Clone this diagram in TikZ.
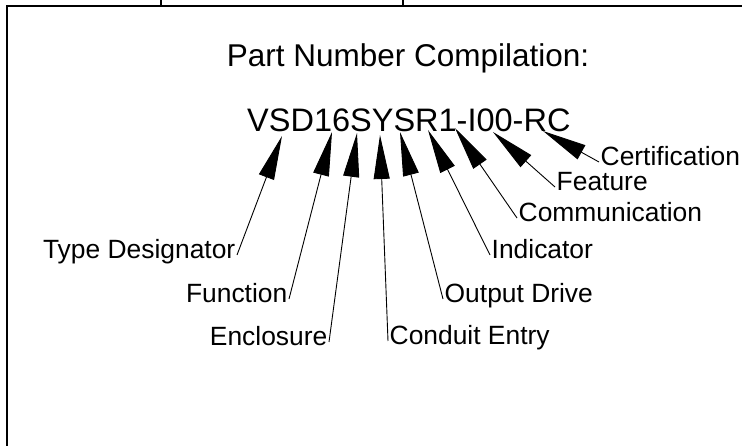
\documentclass[tikz,border=0pt]{standalone}
\usepackage{fontspec}
\setmainfont{Liberation Sans}
\usetikzlibrary{arrows.meta}

\tikzset{
  frameline/.style={line width=1.6pt},
  pnarrow/.style={line width=0.9pt,-{Triangle[length=44pt,width=16pt]}},
  lbl/.style={inner sep=1.5pt,font=\fontsize{26.4}{30}\selectfont,text height=0.716em,text depth=0pt}
}

\begin{document}
\begin{tikzpicture}[x=1pt,y=-1pt]
\useasboundingbox (0,0) rectangle (742,446);
% frame
\draw[frameline] (7,446) -- (7,6) -- (742,6);
\draw[frameline] (160.7,0) -- (160.7,6);
\draw[frameline] (403,0) -- (403,6);

% title and part number
\node[anchor=base,inner sep=0pt,font=\fontsize{31.5}{36}\selectfont] (title) at (408,67) {Part Number Compilation:};
\node[anchor=base west,inner sep=0pt,font=\fontsize{32.5}{38}\selectfont] (pn) at (247,132) {VSD16SYSR1-I00-RC};

% arrow tips on the part number
\coordinate (tipType) at (282,136);
\coordinate (tipFunc) at (332,132);
\coordinate (tipEncl) at (357,133);
\coordinate (tipCond) at (380,135);
\coordinate (tipOut) at (400,132);
\coordinate (tipInd) at (428,130);
\coordinate (tipComm) at (455,128);
\coordinate (tipFeat) at (493,132);
\coordinate (tipCert) at (543,131);

% labels
\node[lbl,anchor=east] (type) at (237,255) {Type Designator};
\node[lbl,anchor=east] (func) at (289,299) {Function};
\node[lbl,anchor=east] (encl) at (329,342) {Enclosure};
\node[lbl,anchor=west] (cond) at (388,341) {Conduit Entry};
\node[lbl,anchor=west] (out) at (443,299) {Output Drive};
\node[lbl,anchor=west] (ind) at (490,255) {Indicator};
\node[lbl,anchor=west] (comm) at (517,218) {Communication};
\node[lbl,anchor=west] (feat) at (555,187) {Feature};
\node[lbl,anchor=west] (cert) at (599,162) {Certification};

% arrows
\draw[pnarrow] (type.east) -- (tipType);
\draw[pnarrow] (func.east) -- (tipFunc);
\draw[pnarrow] (encl.east) -- (tipEncl);
\draw[pnarrow] (cond.west) -- (tipCond);
\draw[pnarrow] (out.west) -- (tipOut);
\draw[pnarrow] (ind.west) -- (tipInd);
\draw[pnarrow] (comm.west) -- (tipComm);
\draw[pnarrow] (feat.west) -- (tipFeat);
\draw[pnarrow] (cert.west) -- (tipCert);
\end{tikzpicture}
\end{document}
